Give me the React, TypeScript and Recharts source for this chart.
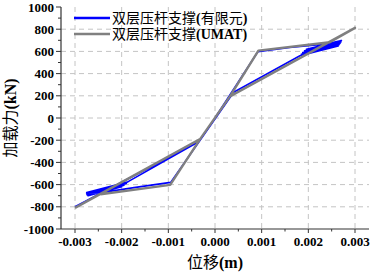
import React from 'react';
import { LineChart, Line, XAxis, YAxis, CartesianGrid } from 'recharts';

const X_MAJOR = [-0.003, -0.002, -0.001, 0, 0.001, 0.002, 0.003];
const X_MINOR = [-0.0025, -0.0015, -0.0005, 0.0005, 0.0015, 0.0025];
const Y_MAJOR = [-1000, -800, -600, -400, -200, 0, 200, 400, 600, 800, 1000];
const Y_MINOR = [-900, -700, -500, -300, -100, 100, 300, 500, 700, 900];
const X_GRID = [-0.003, -0.002, -0.001, 0, 0.001, 0.002, 0.003];
const Y_GRID = [-800, -600, -400, -200, 0, 200, 400, 600, 800];

const SERIES_FE = '双层压杆支撑(有限元)';
const SERIES_UMAT = '双层压杆支撑(UMAT)';

// displacement (m)
const feX = [
  0, 0.00092, 0.0016, 0.0024,
  0.00271, 0.00196, 0.0027, 0.00192, 0.00268, 0.00188, 0.00266, 0.00185, 0.00264, 0.00182,
  0.0004, -0.00095, -0.0017, -0.0024,
  -0.00275, -0.00186, -0.00275, -0.0019, -0.00274, -0.00195, -0.00272, -0.002, -0.0027, -0.00188,
  -0.0004, -0.003,
];
// force (kN)
const feY = [
  0, 598, 635, 668,
  697, 620, 685, 605, 672, 590, 660, 575, 648, 561,
  232, -580, -625, -670,
  -672, -575, -682, -590, -692, -605, -700, -620, -690, -578,
  -225, -800,
];

const umatX = [-0.003, -0.00032, 0.00032, 0.00093, 0.00246, 0.003, 0.00032, -0.00032, -0.00096, -0.00245];
const umatY = [-810, -190, 195, 607, 683, 812, 195, -190, -603, -687];

const feData = feX.map((x, i) => ({ x, y: feY[i] }));
const umatData = umatX.map((x, i) => ({ x, y: umatY[i] }));

const SERIF = '"Liberation Serif", "Times New Roman", "Noto Sans CJK SC", serif';
const CJK = '"Noto Sans CJK SC", "Liberation Serif", serif';
const AXIS_COLOR = '#333';

const isIn = (arr: number[], v: number) => arr.some((m) => Math.abs(m - v) < 1e-9);

const XTick = (props: any) => {
  const { x, y, payload } = props;
  const v = payload.value;
  const major = isIn(X_MAJOR, v);
  return (
    <g>
      <line x1={x} x2={x} y1={y} y2={y + (major ? 4 : 2.5)} stroke={AXIS_COLOR} strokeWidth={1} />
      {major && (
        <text x={x} y={y + 17} textAnchor="middle" fontFamily={SERIF} fontWeight="bold" fontSize={13} fill="#000">
          {Math.abs(v) < 1e-12 ? '0.000' : v.toFixed(3)}
        </text>
      )}
    </g>
  );
};

const YTick = (props: any) => {
  const { x, y, payload } = props;
  const v = payload.value;
  const major = isIn(Y_MAJOR, v);
  return (
    <g>
      <line x1={x} x2={x - (major ? 5 : 3)} y1={y} y2={y} stroke={AXIS_COLOR} strokeWidth={1} />
      {major && (
        <text x={x - 7} y={y} dy="0.35em" textAnchor="end" fontFamily={SERIF} fontWeight="bold" fontSize={13} fill="#000">
          {String(v)}
        </text>
      )}
    </g>
  );
};

const XTitle = (props: any) => {
  const vb = props.viewBox || {};
  const cx = vb.x + vb.width / 2;
  const cy = vb.y + 39;
  return (
    <text x={cx} y={cy} textAnchor="middle" fontSize={16} fill="#000">
      <tspan fontFamily={CJK}>位移</tspan>
      <tspan fontFamily={SERIF} fontWeight="bold">(m)</tspan>
    </text>
  );
};

const YTitle = (props: any) => {
  const vb = props.viewBox || {};
  const cx = vb.x + 16;
  const cy = vb.y + vb.height / 2;
  return (
    <text x={cx} y={cy} textAnchor="middle" fontSize={16} fill="#000" transform={`rotate(-90 ${cx} ${cy})`}>
      <tspan fontFamily={CJK}>加载力</tspan>
      <tspan fontFamily={SERIF} fontWeight="bold">(kN)</tspan>
    </text>
  );
};

const LegendBox = () => {
  const rows = [
    { color: '#0000ff', label: SERIES_FE },
    { color: '#808080', label: SERIES_UMAT },
  ];
  return (
    <svg width={220} height={46} style={{ position: 'absolute', left: 72, top: 5, display: 'block', overflow: 'visible' }}>
      {rows.map((r, i) => {
        const m = r.label.match(/^([^(]*)\((.*)\)$/) || [r.label, r.label, ''];
        const inner = m[2];
        const innerIsLatin = /^[A-Za-z]+$/.test(inner);
        const cy = 13 + i * 16;
        return (
          <g key={i}>
            <line x1={2} x2={38} y1={cy} y2={cy} stroke={r.color} strokeWidth={2.5} />
            <text x={40} y={cy} dy="0.35em" fontSize={14} fill="#000">
              <tspan fontFamily={CJK}>{m[1]}</tspan>
              <tspan fontFamily={SERIF} fontWeight="bold">(</tspan>
              <tspan fontFamily={innerIsLatin ? SERIF : CJK} fontWeight={innerIsLatin ? 'bold' : 'normal'}>{inner}</tspan>
              <tspan fontFamily={SERIF} fontWeight="bold">)</tspan>
            </text>
          </g>
        );
      })}
    </svg>
  );
};

export default function App() {
  return (
    <div style={{ position: 'absolute', left: 0, top: 0, width: 371, height: 273, background: '#fff' }}>
      <LineChart width={371} height={273} margin={{ top: 7, right: 2, bottom: 0, left: 0 }}>
        <CartesianGrid
          horizontalValues={Y_GRID}
          verticalValues={X_GRID}
          stroke="#c4c4c4"
          strokeDasharray="5 4"
          strokeWidth={1}
        />
        <XAxis
          type="number"
          dataKey="x"
          domain={[-0.0033, 0.0033]}
          ticks={[...X_MAJOR, ...X_MINOR].sort((a, b) => a - b)}
          interval={0}
          allowDataOverflow
          height={44}
          tickSize={0}
          tickMargin={0}
          tickLine={false}
          tick={<XTick />}
          axisLine={{ stroke: AXIS_COLOR, strokeWidth: 1.2 }}
          label={(p: any) => <XTitle {...p} />}
        />
        <YAxis
          type="number"
          dataKey="y"
          domain={[-1000, 1000]}
          ticks={[...Y_MAJOR, ...Y_MINOR].sort((a, b) => a - b)}
          interval={0}
          allowDataOverflow
          width={61}
          tickSize={0}
          tickMargin={0}
          tickLine={false}
          tick={<YTick />}
          axisLine={{ stroke: AXIS_COLOR, strokeWidth: 1.2 }}
          label={(p: any) => <YTitle {...p} />}
        />
        <Line
          data={feData}
          dataKey="y"
          name={SERIES_FE}
          type="linear"
          stroke="#0000ff"
          strokeWidth={1.6}
          dot={false}
          activeDot={false}
          isAnimationActive={false}
          strokeLinejoin="round"
        />
        <Line
          data={umatData}
          dataKey="y"
          name={SERIES_UMAT}
          type="linear"
          stroke="#808080"
          strokeWidth={2.4}
          dot={false}
          activeDot={false}
          isAnimationActive={false}
          strokeLinejoin="round"
        />
      </LineChart>
      <LegendBox />
    </div>
  );
}
